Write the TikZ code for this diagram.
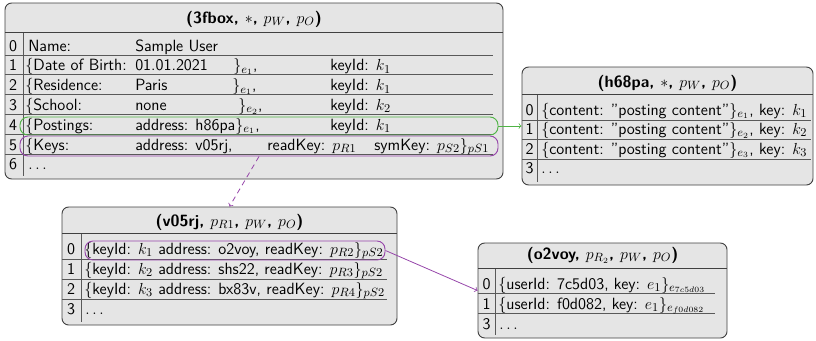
\documentclass[tikz,border=0pt]{standalone}
\usetikzlibrary{fit}
\definecolor{ringgreen}{RGB}{80,180,70}
\definecolor{ringpurple}{RGB}{150,70,170}

\begin{document}
\begin{tikzpicture}[x=.75pt,y=-.75pt,>=to,
	font=\sffamily\fontsize{12.2}{14}\selectfont,
	tbl/.style={draw=black!75,fill=gray!20,line width=.7pt,rounded corners=5pt,inner sep=0pt},
	ttl/.style={anchor=base,inner sep=0pt,font=\sffamily\bfseries\fontsize{12.2}{14}\selectfont},
	idx/.style={anchor=base,inner sep=0pt},
	txt/.style={anchor=base west,inner sep=0pt},
	hsep/.style={draw=black!75,line width=.7pt},
	sep/.style={draw=black!65,line width=.7pt},
	ring/.style={draw=#1,line width=.7pt,rounded corners=6pt,inner sep=0pt}]
			\useasboundingbox (0,0) rectangle (816,340);
			
			% user record
			\node[tbl,fit={(5,3) (503,179)}] (u3fbox) {};
			\node[ttl] (tu) at (254,23) {(3fbox, $*$, $p_W$, $p_O$)};
			\draw[hsep] (5,32) -- (503,32);
			\foreach \y in {55,74.8,94.6,114.4,134.2,154} \draw[sep] (5,\y) -- (493,\y);
			\draw[sep] (23,33) -- (23,176);
			\foreach \i in {0,...,6} \node[idx] (ui\i) at (13,{51+19.8*\i}) {\i};
			
			\node[txt] (u0a) at (28,51) {Name:};  \node[txt] (u0b) at (135,51) {Sample User};
			\node[txt] (u1a) at (25,70.8) {\{Date of Birth:}; \node[txt] (u1b) at (135,70.8) {01.01.2021};
			\node[txt] (u1c) at (233,70.8) {$\}_{e_1}$,}; \node[txt] (u1d) at (330,70.8) {keyId: $k_1$};
			\node[txt] (u2a) at (25,90.6) {\{Residence:}; \node[txt] (u2b) at (135,90.6) {Paris};
			\node[txt] (u2c) at (232,90.6) {$\}_{e_1}$,}; \node[txt] (u2d) at (330,90.6) {keyId: $k_1$};
			\node[txt] (u3a) at (25,110.4) {\{School:}; \node[txt] (u3b) at (135,110.4) {none};
			\node[txt] (u3c) at (238,110.4) {$\}_{e_2}$,}; \node[txt] (u3d) at (330,110.4) {keyId: $k_2$};
			\node[txt] (u4a) at (25,130.2) {\{Postings:}; \node[txt] (u4b) at (135,130.2) {address: h86pa$\}_{e_1}$,};
			\node[txt] (u4d) at (330,130.2) {keyId: $k_1$};
			\node[txt] (u5a) at (25,150) {\{Keys:}; \node[txt] (u5b) at (135,150) {address: v05rj,};
			\node[txt] (u5c) at (267,150) {readKey: $p_{R1}$}; \node[txt] (u5d) at (374,150) {symKey: $p_{S2}\}_{pS1}$};
			\node[txt] (u6a) at (28,169.8) {$\dots$};
			
			\node[ring=ringgreen,fit={(20,117) (498,135)}] (postings) {};
			\node[ring=ringpurple,fit={(20,136) (498,156)}] (keys) {};
			
			% postings
			\node[tbl,fit={(522,67) (813,185)}] (h68pa) {};
			\node[ttl] (th) at (667.5,87) {(h68pa, $*$, $p_W$, $p_O$)};
			\draw[hsep] (522,94) -- (813,94);
			\foreach \y in {120,139.5,159} \draw[sep] (522,\y) -- (811,\y);
			\draw[sep] (537,95) -- (537,182);
			\foreach \i in {0,...,3} \node[idx] (hi\i) at (529.5,{115+19.5*\i}) {\i};
			\foreach \i/\k in {0/1,1/2,2/3}
				\node[txt] (h\i) at (541,{115+19.5*\i}) {\{content: "posting content"$\}_{e_\k}$, key: $k_\k$};
			\node[txt] (h3) at (541,173.5) {$\dots$};
			
			% keys
			\node[tbl,fit={(62,207) (397,325)}] (v05rj) {};
			\node[ttl] (tv) at (229.5,226) {(v05rj, $p_{R1}$, $p_W$, $p_O$)};
			\draw[hsep] (62,233) -- (397,233);
			\foreach \y in {259,279,299} \draw[sep] (62,\y) -- (387,\y);
			\draw[sep] (81,234) -- (81,322);
			\foreach \i in {0,...,3} \node[idx] (vi\i) at (71,{254+20*\i}) {\i};
			\foreach \i/\k/\a/\r in {0/1/o2voy/2,1/2/shs22/3,2/3/bx83v/4}
				\node[txt] (v\i) at (84,{254+20*\i}) {\{keyId: $k_\k$ address: \a, readKey: $p_{R\r}\}_{pS2}$};
			\node[txt] (v3) at (85,314) {$\dots$};
			\node[ring=ringpurple,fit={(85,241) (385,260)}] (refzero) {};
			
			% read key
			\node[tbl,fit={(478,243) (727,338)}] (o2voy) {};
			\node[ttl] (to) at (602.5,259) {(o2voy, $p_{R_2}$, $p_W$, $p_O$)};
			\draw[hsep] (478,268) -- (727,268);
			\foreach \y in {293,313} \draw[sep] (478,\y) -- (715,\y);
			\draw[sep] (495,269) -- (495,335);
			\node[idx] (oi0) at (486.5,289) {0}; \node[txt] (o0) at (498,289) {\{userId: 7c5d03, key: $e_1\}_{e_{7c5d03}}$};
			\node[idx] (oi1) at (486.5,309) {1}; \node[txt] (o1) at (498,309) {\{userId: f0d082, key: $e_1\}_{e_{f0d082}}$};
			\node[idx] (oi3) at (486.5,329) {3}; \node[txt] (o3) at (499,329) {$\dots$};
			
			\draw[->,ringgreen,line width=.6pt] (postings.east) -- (postings.east -| h68pa.west);
			\draw[->,ringpurple,line width=.6pt,dash pattern=on 4pt off 3pt] (keys.south) -- (v05rj.north);
			\draw[->,ringpurple,line width=.6pt] (refzero.east) -- (o2voy.west);
\end{tikzpicture}
\end{document}
